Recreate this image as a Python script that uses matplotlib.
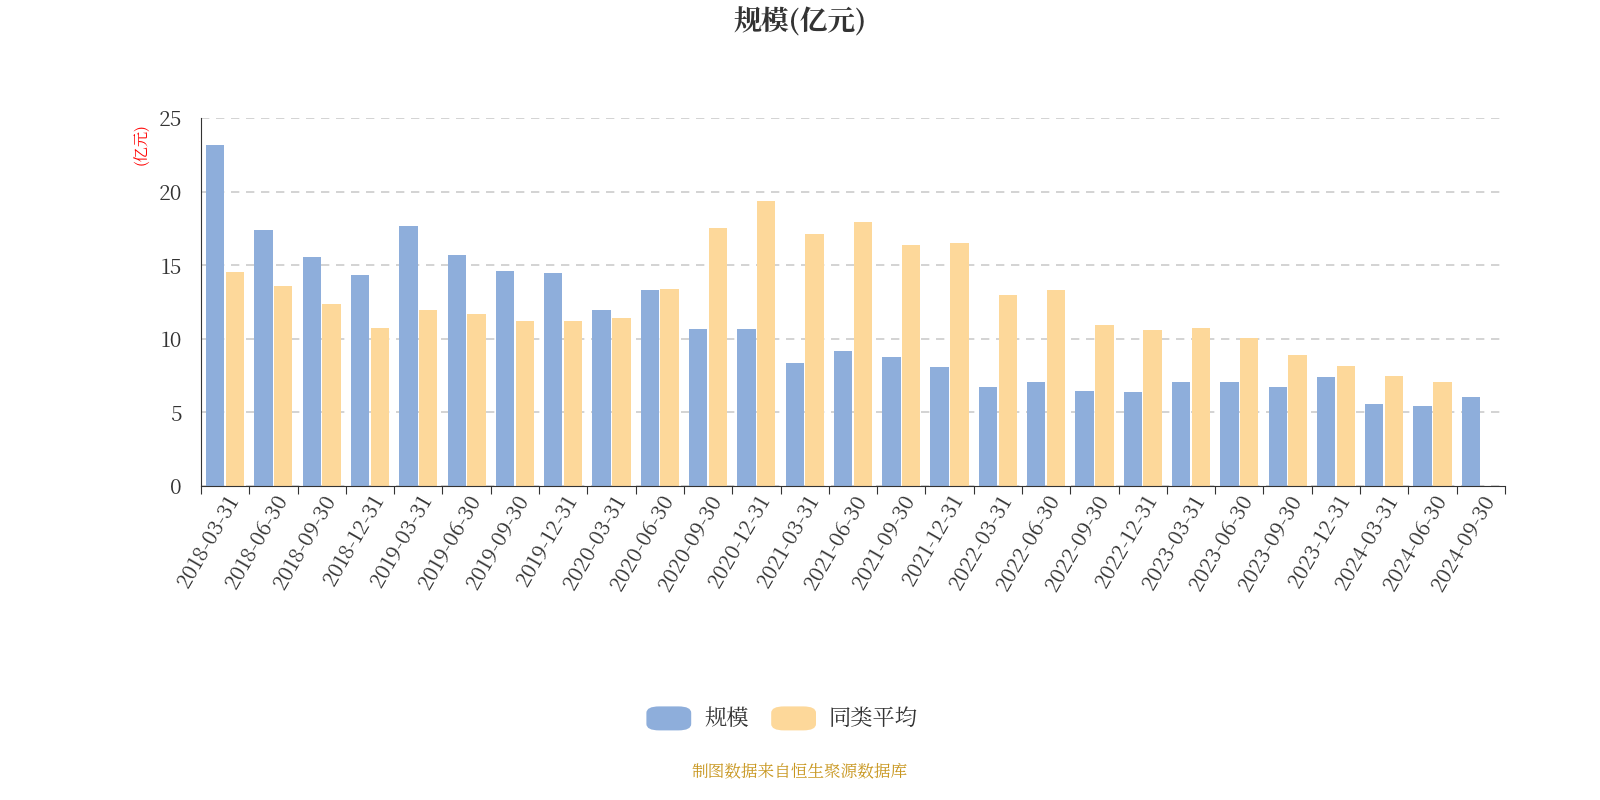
import matplotlib
matplotlib.use("Agg")
import matplotlib.pyplot as plt
from matplotlib import font_manager as fm
import numpy as np
from matplotlib.patches import FancyBboxPatch

cjk = None
for f in fm.findSystemFonts():
    if "CJK" in f or "cjk" in f.lower():
        try:
            fm.fontManager.addfont(f)
            n = fm.FontProperties(fname=f).get_name()
            if cjk is None or "SC" in n:
                cjk = n
        except Exception:
            pass
names = [n.name for n in fm.fontManager.ttflist if "CJK" in n.name]
if cjk is None and names:
    cjk = names[0]
plt.rcParams["font.family"] = [cjk or "Noto Sans CJK SC", "DejaVu Sans"]

dates = ["2018-03-31","2018-06-30","2018-09-30","2018-12-31","2019-03-31","2019-06-30","2019-09-30","2019-12-31",
         "2020-03-31","2020-06-30","2020-09-30","2020-12-31","2021-03-31","2021-06-30","2021-09-30","2021-12-31",
         "2022-03-31","2022-06-30","2022-09-30","2022-12-31","2023-03-31","2023-06-30","2023-09-30","2023-12-31",
         "2024-03-31","2024-06-30","2024-09-30"]
scale = [23.17,17.39,15.56,14.33,17.66,15.69,14.61,14.47,11.96,13.32,10.67,10.67,8.36,9.17,8.76,8.08,
         6.73,7.07,6.45,6.39,7.07,7.07,6.73,7.40,5.57,5.43,6.05]
avg = [14.54,13.59,12.36,10.73,11.96,11.68,11.21,11.21,11.41,13.38,17.53,19.36,17.12,17.93,16.37,16.51,
       12.98,13.32,10.94,10.60,10.73,10.05,8.90,8.15,7.47,7.07,np.nan]

blue, orange = "#8eaedb", "#fdd89a"
fig = plt.figure(figsize=(16, 8), dpi=100)
ax = fig.add_axes([0.1256, 0.3925, 0.815, 0.46])
x = np.arange(len(dates))
w = 0.38
ax.bar(x - 0.205, scale, w, color=blue)
ax.bar(x + 0.205, avg, w, color=orange)
ax.set_xlim(-0.5, len(dates) - 0.5)
ax.set_ylim(0, 25)
ax.set_yticks([0, 5, 10, 15, 20, 25])
ax.tick_params(axis="y", labelsize=15, length=0, colors="#333333", pad=14)
ax.set_xticks(np.arange(-0.5, len(dates) + 0.5), minor=False, labels=[""] * (len(dates) + 1))
ax.tick_params(axis="x", length=6, color="#333333")
ax.set_xticks(x, labels=dates, minor=True)
ax.tick_params(axis="x", which="minor", length=0, labelsize=15, labelrotation=60, colors="#333333")
for lab in ax.get_xticklabels(minor=True):
    lab.set_ha("right"); lab.set_rotation_mode("anchor")
ax.grid(axis="y", linestyle=(0, (5, 4)), color="#cccccc", linewidth=1.2)
ax.set_axisbelow(True)
for s in ["top", "right"]:
    ax.spines[s].set_visible(False)
ax.spines["left"].set_color("#333333")
ax.spines["bottom"].set_color("#333333")
ax.text(-0.045, 0.93, "(亿元)", transform=ax.transAxes, rotation=90, color="red", fontsize=11, ha="center", va="center")

fig.text(0.5, 0.972, "规模(亿元)", ha="center", va="center", fontsize=20, fontweight="bold", color="#333333")
for bx, col, lab in [(0.404, blue, "规模"), (0.482, orange, "同类平均")]:
    fig.patches.append(FancyBboxPatch((bx, 0.087), 0.028, 0.03, boxstyle="round,pad=0,rounding_size=0.008",
                                      transform=fig.transFigure, facecolor=col, edgecolor="none"))
    fig.text(bx + 0.036, 0.102, lab, ha="left", va="center", fontsize=16, color="#333333")
fig.text(0.5, 0.034, "制图数据来自恒生聚源数据库", ha="center", va="center", fontsize=12, color="#c8961e")
fig.savefig("out.png")
